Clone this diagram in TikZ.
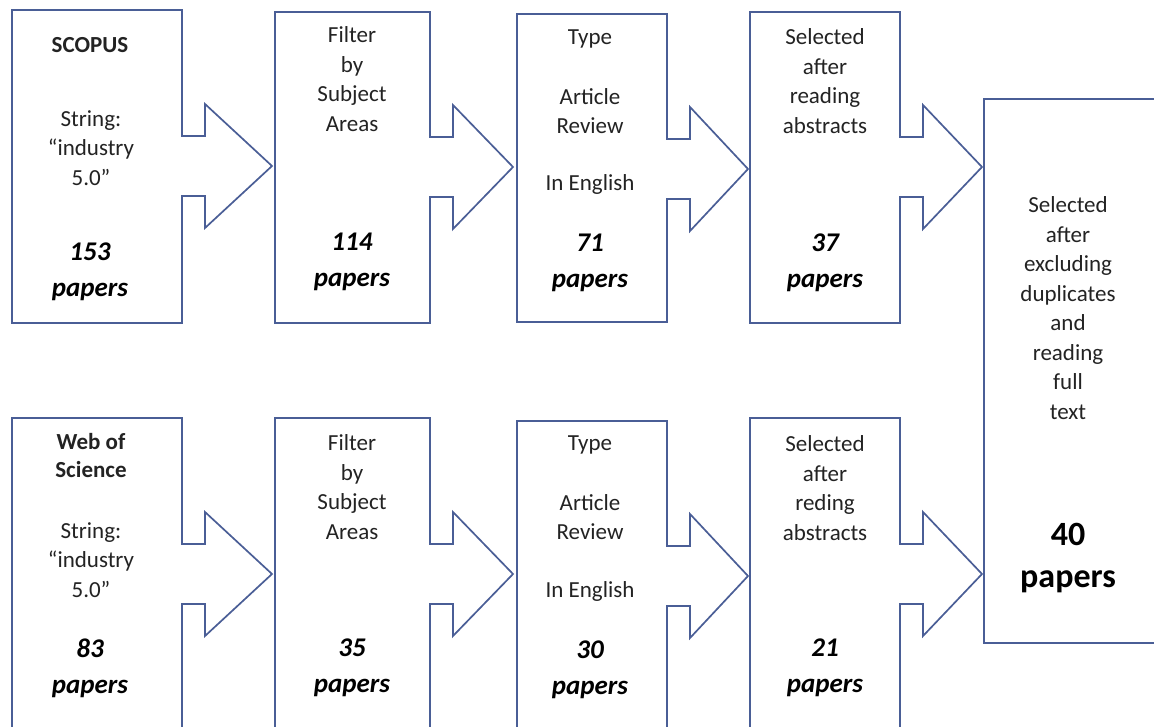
\documentclass[tikz,border=0pt]{standalone}
\usepackage{fontspec}
\setmainfont{Carlito}
\definecolor{edge}{RGB}{74,94,150}
\definecolor{ink}{RGB}{35,35,35}
\newcommand{\flowbox}[6]{% #1 left, #2 right, #3 top, #4 bottom, #5 tip x, #6 arrow centre y
  \draw[boxline] (#2,#6-30) -- (#2,#3) -- (#1,#3) -- (#1,#4) -- (#2,#4) -- (#2,#6+30)
    -- (#2+23,#6+30) -- (#2+23,#6+62) -- (#5,#6) -- (#2+23,#6-62) -- (#2+23,#6-30) -- cycle;}
\begin{document}
\begin{tikzpicture}[x=1pt,y=-1pt,
  boxline/.style={draw=edge,line width=1.7pt,line join=miter},
  txt/.style={text=ink,align=center,inner sep=0pt,font=\fontsize{23}{29.5}\selectfont},
  btxt/.style={txt,font=\fontsize{23}{28}\selectfont\bfseries},
  num/.style={txt,text=black,font=\fontsize{27}{36}\selectfont\bfseries\itshape},
  bignum/.style={txt,text=black,font=\fontsize{34}{42}\selectfont\bfseries}]
\useasboundingbox (0,0) rectangle (1154,726);
\clip (0,0) rectangle (1154,726);
\fill[white] (0,0) rectangle (1154,726);
% top row
\flowbox{12}{182}{10}{323}{272}{166}
\flowbox{275}{430}{12}{323}{513}{167}
\flowbox{517}{667}{14}{322}{748}{169}
\flowbox{750}{900}{12}{323}{982}{167}
% bottom row
\flowbox{12}{182}{418}{770}{272}{574}
\flowbox{275}{430}{418}{770}{513}{574}
\flowbox{517}{667}{421}{770}{748}{576}
\flowbox{750}{900}{418}{770}{982}{574}
% final box
\draw[boxline] (1180,99) -- (984,99) -- (984,643) -- (1180,643);
% top row texts
\node[btxt] (t1a) at (90,45) {SCOPUS};
\node[txt] (t1b) at (91,148) {String:\\“industry\\5.0”};
\node[num] (t1c) at (90,272) {153\\papers};
\node[txt] (t2a) at (352,79) {Filter\\by\\Subject\\Areas};
\node[num] (t2c) at (352,262) {114\\papers};
\node[txt] (t3a) at (590,39) {Type};
\node[txt] (t3b) at (590,111) {Article\\Review};
\node[txt] (t3c) at (590,184) {In English};
\node[num] (t3d) at (590,263) {71\\papers};
\node[txt] (t4a) at (825,81) {Selected\\after\\reading\\abstracts};
\node[num] (t4c) at (825,263) {37\\papers};
% final box texts
\node[txt] (f1) at (1068,308) {Selected\\after\\excluding\\duplicates\\and\\reading\\full\\text};
\node[bignum] (f2) at (1068,558) {40\\papers};
% bottom row texts
\node[btxt] (b1a) at (91,456) {Web of\\Science};
\node[txt] (b1b) at (91,560) {String:\\“industry\\5.0”};
\node[num] (b1c) at (90,668) {83\\papers};
\node[txt] (b2a) at (352,487) {Filter\\by\\Subject\\Areas};
\node[num] (b2c) at (352,668) {35\\papers};
\node[txt] (b3a) at (590,445) {Type};
\node[txt] (b3b) at (590,517) {Article\\Review};
\node[txt] (b3c) at (590,591) {In English};
\node[num] (b3d) at (590,670) {30\\papers};
\node[txt] (b4a) at (825,488) {Selected\\after\\reding\\abstracts};
\node[num] (b4c) at (825,668) {21\\papers};
\end{tikzpicture}
\end{document}
